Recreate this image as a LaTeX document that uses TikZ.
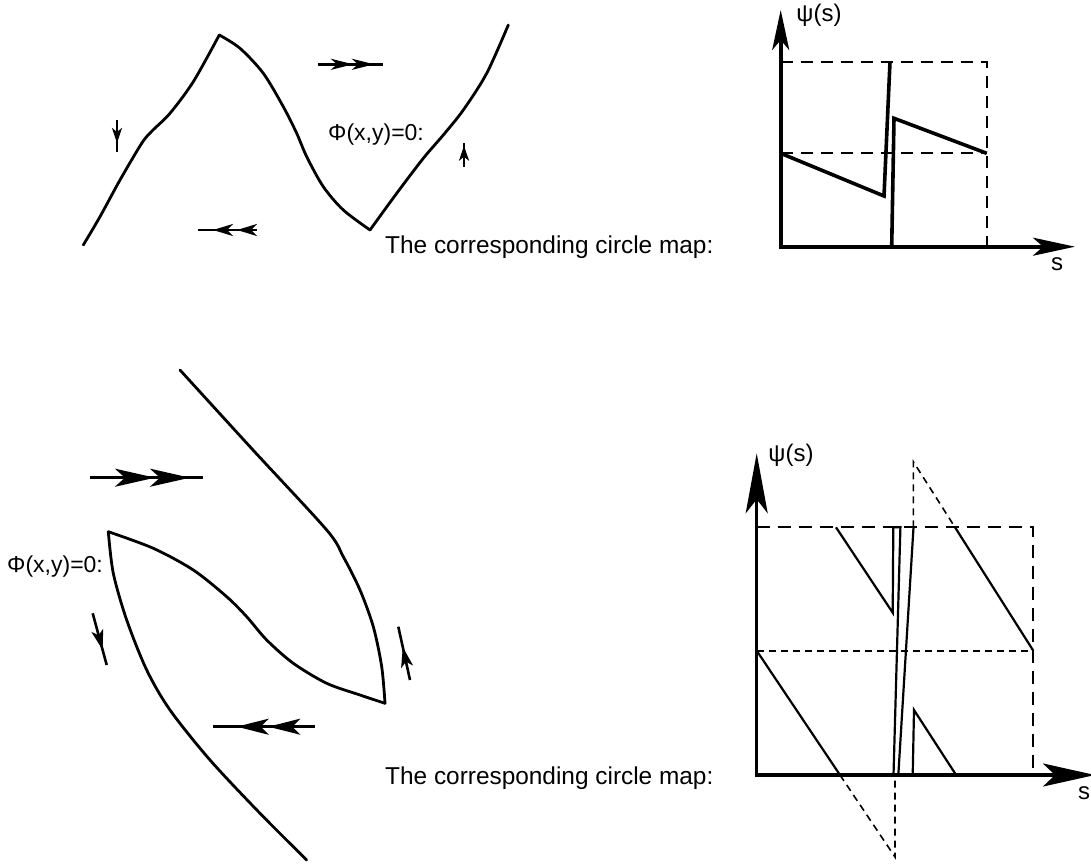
\documentclass[tikz,border=0pt]{standalone}
\usepackage{fontspec}
\setmainfont{Liberation Sans}
\usetikzlibrary{arrows.meta,decorations.markings}
\tikzset{
  curve/.style={line width=2.8pt, line join=round, line cap=round},
  lbl/.style={font=\fontsize{23}{27}\selectfont, inner sep=0pt},
  maplbl/.style={font=\fontsize{24.4}{28}\selectfont, inner sep=0pt},
  smalllbl/.style={font=\fontsize{24}{28}\selectfont, inner sep=0pt},
  axisA/.style={line width=3.6pt},
  axisB/.style={line width=3.2pt},
  graphA/.style={line width=3.6pt, line join=miter},
  graphB/.style={line width=2.2pt, line join=miter},
  dshA/.style={line width=1.8pt, dash pattern=on 12pt off 8pt},
  dshB/.style={line width=1.8pt, dash pattern=on 13pt off 8pt},
  dshC/.style={line width=1.6pt, dash pattern=on 7pt off 5pt},
  flowline/.style={line width=2.6pt},
}
\begin{document}
\begin{tikzpicture}[x=1pt,y=-1pt]
\useasboundingbox (0,0) rectangle (1091,864);

% ---------- top left curve ----------
\draw[curve] plot[smooth,tension=0.5] coordinates {(83.3,245) (100,216.7) (120,180) (141.7,143.3) (152,131) (170,113.3) (193.3,81.7) (219.3,35)};
\draw[curve] plot[smooth,tension=0.5] coordinates {(219.3,35) (240,48.3) (263.3,73.3) (283.3,106.7) (296.7,133.3) (306.7,156.7) (323.3,186.7) (343.3,210) (370,230)};
\draw[curve] plot[smooth,tension=0.5] coordinates {(370,230) (396.7,193.3) (423.3,158.3) (443.3,135) (463.3,110) (486.7,73.3) (508.3,25)};

% flow arrows top
\draw[flowline, postaction={decorate}, decoration={markings,
   mark=at position 35pt with {\arrow{Stealth[length=22pt,width=11pt,inset=6pt]}},
   mark=at position 56pt with {\arrow{Stealth[length=22pt,width=11pt,inset=6pt]}}}]
   (318,64.3) -- (383,64.3);
\draw[flowline, postaction={decorate}, decoration={markings,
   mark=at position 20pt with {\arrow{Stealth[length=20pt,width=12pt,inset=6pt]}},
   mark=at position 44pt with {\arrow{Stealth[length=20pt,width=12pt,inset=6pt]}}}]
   (257,230) -- (198,230);
\draw[flowline, postaction={decorate}, decoration={markings,
   mark=at position 23pt with {\arrow{Stealth[length=15pt,width=10pt,inset=4pt]}}}]
   (117,120) -- (117,152);
\draw[flowline, postaction={decorate}, decoration={markings,
   mark=at position 21pt with {\arrow{Stealth[length=15pt,width=10pt,inset=4pt]}}}]
   (464,166.7) -- (464,143.3);

\node[lbl, anchor=base west] (phiA) at (328,140) {Φ(x,y)=0:};
\node[maplbl, anchor=base west] (mapA) at (385,253) {The corresponding circle map:};

% ---------- top right plot ----------
\draw[dshA] (780.7,61.7) -- (986.7,61.7) -- (986.7,246.7);
\draw[dshA] (780.7,153.3) -- (986.7,153.3);
\draw[axisA, {Stealth[length=40pt,width=17pt,inset=10pt]}-{Stealth[length=42pt,width=18pt,inset=10pt]}]
   (780.7,10) -- (780.7,246.7) -- (1075,246.7);
\draw[graphA] (780.7,153.3) -- (884,196) -- (890,61.7);
\draw[graphA] (891.7,246.7) -- (894,118.3) -- (986.7,153.3);
\node[smalllbl] (psiA) at (819,15) {ψ(s)};
\node[smalllbl] (sA) at (1057,264) {s};

% ---------- bottom left curves ----------
\draw[curve] plot[smooth,tension=0.5] coordinates {(180,370) (253,450) (326.7,530) (343.3,556.7) (360,590) (373.3,626.7) (381.7,666.7) (385,703.3)};
\draw[curve] plot[smooth,tension=0.5] coordinates {(385,703.3) (360,695) (326.7,683.3) (293.3,663.3) (266.7,640) (246.7,616.7) (226.7,596.7) (193.3,570) (153.3,548.3) (108.3,531.7)};
\draw[curve] plot[smooth,tension=0.5] coordinates {(108.3,531.7) (113.3,573.3) (126.7,620) (146.7,670) (170,710) (210,760) (260,813.3) (306.7,860)};

% flow arrows bottom
\draw[flowline, postaction={decorate}, decoration={markings,
   mark=at position 65pt with {\arrow{Stealth[length=40pt,width=18pt,inset=10pt]}},
   mark=at position 100pt with {\arrow{Stealth[length=40pt,width=18pt,inset=10pt]}}}]
   (90,477.7) -- (203.3,477.7);
\draw[flowline, postaction={decorate}, decoration={markings,
   mark=at position 46.7pt with {\arrow{Stealth[length=32pt,width=16pt,inset=8pt]}},
   mark=at position 78.3pt with {\arrow{Stealth[length=32pt,width=16pt,inset=8pt]}}}]
   (315,726.7) -- (213.3,726.7);
\draw[flowline, postaction={decorate}, decoration={markings,
   mark=at position 37.8pt with {\arrow{Stealth[length=20pt,width=12pt,inset=5pt]}}}]
   (92.7,613.3) -- (106.7,665);
\draw[flowline, postaction={decorate}, decoration={markings,
   mark=at position 33.7pt with {\arrow{Stealth[length=20pt,width=12pt,inset=5pt]}}}]
   (410,680) -- (398.3,626.7);

\node[lbl, anchor=base west] (phiB) at (7,572) {Φ(x,y)=0:};
\node[maplbl, anchor=base west] (mapB) at (385,784) {The corresponding circle map:};

% ---------- bottom right plot ----------
\draw[dshB] (756.7,527.3) -- (1033.3,527.3) -- (1033.3,775);
\draw[dshC] (756.7,650.7) -- (1033.3,650.7);
\draw[dshC] (913.3,527.3) -- (913.3,461.7) -- (955,527.3);
\draw[dshC] (840,775) -- (895,857) -- (895,775);
\draw[axisB, {Stealth[length=60pt,width=22pt,inset=14pt]}-{Stealth[length=52pt,width=23pt,inset=12pt]}]
   (756.7,453.3) -- (756.7,775) -- (1095,775);
\draw[graphB] (756.7,650.7) -- (840,775);
\draw[graphB] (836,527.3) -- (892.7,612.7) -- (893.3,527.3) -- (900.4,527.3) -- (893.5,775);
\draw[graphB] (898.3,775) -- (913.5,527.3);
\draw[graphB] (955,527.3) -- (1033.3,650.7);
\draw[graphB] (912.7,775) -- (914,710) -- (955,773.3);
\node[smalllbl] (psiB) at (791,455) {ψ(s)};
\node[smalllbl] (sB) at (1084,793) {s};
\end{tikzpicture}
\end{document}
